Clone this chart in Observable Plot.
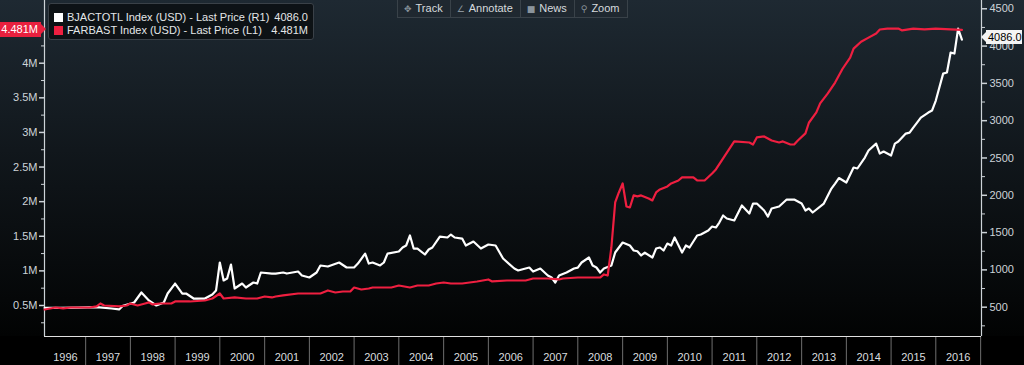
<!DOCTYPE html>
<html>
<head>
<meta charset="utf-8">
<script src="https://cdn.jsdelivr.net/npm/d3@7"></script>
<script src="https://cdn.jsdelivr.net/npm/@observablehq/plot@0.6"></script>
<style>
html, body { margin: 0; padding: 0; background: #000; }
#wrap {
  position: relative; width: 1024px; height: 365px; overflow: hidden;
  font-family: "Liberation Sans", Arial, sans-serif;
  background: linear-gradient(to bottom, #1e2932 0px, #11171c 150px, #050708 300px, #020303 336px, #000 336px, #000 365px);
}
#wrap svg { position: absolute; left: 0; top: 0; }
.legend {
  position: absolute; left: 48px; top: 3px; width: 266px; height: 37px;
  background: rgba(12,16,20,0.92); border: 1px solid #3a4148; border-radius: 3px;
  color: #e4e6e8; font-size: 11px; box-sizing: border-box;
}
.legend .row { position: absolute; left: 5px; right: 5px; height: 13px; line-height: 13px; white-space: pre; }
.legend .sw { position: absolute; left: 0; top: 2px; width: 9px; height: 9px; }
.legend .lbl { position: absolute; left: 13px; }
.legend .val { position: absolute; right: 0; }
.toolbar {
  position: absolute; left: 397px; top: 0px; height: 17px; display: flex;
  border: 1px solid #394249; border-top: none; background: #1f2830;
  color: #d6dadd; font-size: 11px; line-height: 17px;
}
.toolbar div { padding: 0 7px 0 6px; border-right: 1px solid #394249; white-space: nowrap; }
.toolbar div:last-child { border-right: none; }
.toolbar span.ic { color: #8a949c; font-family: "DejaVu Sans", sans-serif; font-size: 9px; margin-right: 4px; }
.tagL {
  position: absolute; left: 0; width: 38px; height: 15px; line-height: 15px;
  background: #e8203e; color: #fff; font-size: 11px; text-align: right; padding-right: 3px;
}
.tagL::after {
  content: ""; position: absolute; right: -5px; top: 2px;
  border-left: 5px solid #e8203e; border-top: 5.5px solid transparent; border-bottom: 5.5px solid transparent;
}
.tagR {
  position: absolute; left: 986px; width: 34px; height: 14px; line-height: 14px;
  background: #f4f4f4; color: #000; font-size: 11px; text-align: left; padding-left: 2px;
}
.tagR::before {
  content: ""; position: absolute; left: -5px; top: 2px;
  border-right: 5px solid #f4f4f4; border-top: 5px solid transparent; border-bottom: 5px solid transparent;
}
</style>
</head>
<body>
<div id="wrap"></div>
<script>
// ---- Data ----
// BJACTOTL Index (USD), right axis
const bjDates = ["1996-02","1996-06","1996-11","1997-04","1997-08","1997-10","1997-11","1998-02","1998-04","1998-06","1998-08","1998-10","1998-11","1999-01","1999-03","1999-04","1999-06","1999-09","1999-11","1999-12","2000-01","2000-02","2000-03","2000-04","2000-05","2000-07","2000-08","2000-10","2000-11","2000-12","2001-03","2001-04","2001-06","2001-07","2001-10","2001-11","2002-01","2002-03","2002-04","2002-06","2002-09","2002-11","2003-01","2003-02","2003-04","2003-05","2003-06","2003-08","2003-09","2003-10","2004-01","2004-02","2004-03","2004-04","2004-05","2004-06","2004-08","2004-09","2004-10","2004-12","2005-02","2005-03","2005-04","2005-06","2005-07","2005-09","2005-11","2006-01","2006-03","2006-05","2006-08","2006-09","2006-10","2006-12","2007-01","2007-03","2007-05","2007-06","2007-07","2007-08","2007-10","2007-12","2008-01","2008-02","2008-04","2008-05","2008-06","2008-07","2008-08","2008-10","2008-11","2009-01","2009-03","2009-04","2009-05","2009-06","2009-07","2009-09","2009-10","2009-11","2009-12","2010-01","2010-02","2010-03","2010-05","2010-06","2010-07","2010-09","2010-10","2010-12","2011-01","2011-02","2011-03","2011-04","2011-05","2011-07","2011-09","2011-11","2011-12","2012-01","2012-03","2012-04","2012-05","2012-07","2012-09","2012-10","2012-11","2013-01","2013-02","2013-03","2013-04","2013-07","2013-09","2013-10","2013-11","2014-01","2014-03","2014-04","2014-06","2014-07","2014-09","2014-10","2014-11","2015-01","2015-02","2015-03","2015-05","2015-06","2015-07","2015-09","2015-11","2015-12","2016-01","2016-03","2016-04","2016-05","2016-06","2016-07","2016-08"];
const bjValues = [490,490,495,500,482,470,520,563,697,590,523,563,683,817,683,683,616,616,670,723,1099,858,884,1072,750,817,764,831,817,965,951,951,965,951,978,925,898,965,1059,1045,1099,1032,1032,1085,1219,1085,1099,1059,1099,1219,1246,1300,1327,1461,1286,1286,1206,1273,1300,1447,1434,1474,1434,1420,1327,1380,1286,1340,1327,1152,1018,992,1005,1032,978,1018,925,898,831,925,965,1018,1030,1099,1166,1059,1032,965,1018,1059,1233,1367,1327,1260,1250,1193,1230,1166,1286,1300,1260,1353,1327,1434,1233,1327,1300,1461,1474,1528,1581,1568,1635,1729,1689,1662,1863,1755,1889,1889,1796,1715,1822,1849,1943,1943,1943,1889,1796,1822,1769,1889,2090,2157,2231,2171,2372,2359,2506,2600,2693,2559,2586,2533,2693,2720,2827,2840,2908,3042,3109,3136,3270,3631,3645,3913,3900,4234,4086];

// FARBAST Index (USD), left axis, in millions
const faDates = ["1996-02","1996-05","1996-07","1996-09","1996-11","1997-02","1997-04","1997-05","1997-06","1997-10","1997-12","1998-01","1998-03","1998-05","1998-06","1998-07","1998-09","1998-12","1999-01","1999-05","1999-09","1999-11","2000-01","2000-02","2000-05","2000-08","2000-11","2001-01","2001-03","2001-04","2001-06","2001-10","2002-02","2002-04","2002-06","2002-08","2002-10","2002-12","2003-01","2003-03","2003-05","2003-06","2003-11","2004-01","2004-04","2004-06","2004-09","2004-11","2005-01","2005-03","2005-06","2005-08","2005-10","2006-01","2006-02","2006-06","2006-09","2006-11","2007-01","2007-05","2007-08","2007-09","2008-01","2008-05","2008-07","2008-08","2008-09","2008-10","2008-11","2008-12","2009-01","2009-02","2009-03","2009-04","2009-05","2009-06","2009-08","2009-09","2009-10","2009-11","2010-01","2010-02","2010-04","2010-05","2010-08","2010-09","2010-11","2011-01","2011-02","2011-04","2011-07","2011-11","2011-12","2012-01","2012-03","2012-05","2012-07","2012-08","2012-10","2012-11","2012-12","2013-02","2013-03","2013-05","2013-06","2013-08","2013-10","2013-12","2014-02","2014-03","2014-05","2014-07","2014-09","2014-10","2014-12","2015-03","2015-04","2015-07","2015-10","2016-01","2016-05","2016-08"];
const faValues = [0.442,0.471,0.457,0.471,0.471,0.471,0.486,0.529,0.500,0.486,0.500,0.529,0.500,0.529,0.545,0.515,0.529,0.529,0.558,0.558,0.572,0.601,0.673,0.601,0.616,0.601,0.601,0.630,0.616,0.630,0.645,0.673,0.673,0.673,0.717,0.688,0.702,0.702,0.760,0.731,0.745,0.760,0.760,0.789,0.760,0.789,0.789,0.818,0.832,0.818,0.818,0.832,0.847,0.876,0.847,0.861,0.861,0.861,0.890,0.890,0.876,0.890,0.904,0.904,0.904,0.948,0.933,1.338,1.988,2.133,2.263,1.930,1.916,2.090,2.076,2.090,2.047,2.018,2.133,2.176,2.220,2.263,2.306,2.350,2.350,2.306,2.306,2.407,2.465,2.624,2.870,2.855,2.826,2.928,2.942,2.884,2.855,2.870,2.826,2.826,2.884,2.986,3.140,3.290,3.420,3.560,3.720,3.920,4.080,4.210,4.310,4.370,4.430,4.487,4.500,4.500,4.474,4.500,4.490,4.500,4.490,4.481];

const leftTicks = [0.5, 1, 1.5, 2, 2.5, 3, 3.5, 4];
const leftMinor = [0.25, 0.75, 1.25, 1.75, 2.25, 2.75, 3.25, 3.75, 4.25];
const rightTicks = [500, 1000, 1500, 2000, 2500, 3000, 3500, 4000, 4500];
const rightMinor = [250, 750, 1250, 1750, 2250, 2750, 3250, 3750, 4250];
const yearLabels = d3.range(1996, 2017);
const lastBJ = "4086.0";
const lastFA = "4.481M";
const seriesNames = ["BJACTOTL Index (USD) - Last Price (R1)", "FARBAST Index (USD) - Last Price (L1)"];

// ---- Build ----
const parse = d3.utcParse("%Y-%m");
const bj = bjDates.map((d, i) => ({date: parse(d), value: bjValues[i]}));
const fa = faDates.map((d, i) => ({date: parse(d), value: faValues[i]}));

const leftDomain = [0.052, 4.906];
const rightDomain = [107, 4611];
const toL = d3.scaleLinear().domain(rightDomain).range(leftDomain);
const xDomain = [new Date(Date.UTC(1996, 0, 31)), new Date(Date.UTC(2017, 0, 8))];
const yearStarts = d3.range(1997, 2018).map(y => new Date(Date.UTC(y, 0, 1)));
const yearMids = yearLabels.map(y => y === 1996 ? new Date(Date.UTC(1996, 6, 20)) : new Date(Date.UTC(y, 6, 2)));

const axisColor = "#cdd3d8";
const plot = Plot.plot({
  width: 1024, height: 365,
  marginTop: 0, marginBottom: 29, marginLeft: 44, marginRight: 43,
  style: {background: "transparent", color: axisColor, fontFamily: "'Liberation Sans', Arial, sans-serif", fontSize: "11px", overflow: "visible"},
  x: {type: "utc", domain: xDomain, label: null},
  y: {domain: leftDomain, label: null},
  marks: [
    // year dividers and labels in the bottom band
    Plot.axisX(yearStarts, {anchor: "bottom", label: null, tickSize: 29, tickFormat: () => "", stroke: "#6e6e6e"}),
    Plot.axisX(yearMids, {anchor: "bottom", label: null, tickSize: 0, tickPadding: 17, tickFormat: d => String(d.getUTCFullYear()), fill: "#d8dcdf"}),
    // left axis
    Plot.axisY(leftTicks, {anchor: "left", label: null, tickSize: 5, tickPadding: 2, tickFormat: d => d + "M", strokeWidth: 1.5}),
    Plot.axisY(leftMinor, {anchor: "left", label: null, tickSize: 3, tickFormat: () => ""}),
    // right axis
    Plot.axisY(rightTicks.map(toL), {anchor: "right", label: null, tickSize: 5, tickPadding: 3, tickFormat: d => String(Math.round(toL.invert(d))), strokeWidth: 1.5}),
    Plot.axisY(rightMinor.map(toL), {anchor: "right", label: null, tickSize: 3, tickFormat: () => ""}),
    // frame lines
    Plot.ruleX([xDomain[0]], {stroke: axisColor, strokeWidth: 1.2}),
    Plot.ruleX([xDomain[1]], {stroke: axisColor, strokeWidth: 1.2}),
    Plot.ruleY([leftDomain[0]], {stroke: "#e0e0e0", strokeWidth: 1.2}),
    // series
    Plot.lineY(bj, {x: "date", y: d => toL(d.value), stroke: "#ffffff", strokeWidth: 2.2, curve: "linear"}),
    Plot.lineY(fa, {x: "date", y: "value", stroke: "#ef1f40", strokeWidth: 2.2, curve: "linear"})
  ]
});

const wrap = document.getElementById("wrap");
wrap.appendChild(plot);
const ys = plot.scale("y");

// legend
const legend = document.createElement("div");
legend.className = "legend";
legend.innerHTML =
  `<div class="row" style="top:7px"><div class="sw" style="background:#fff"></div><span class="lbl">${seriesNames[0]}</span><span class="val">${lastBJ}</span></div>` +
  `<div class="row" style="top:20px"><div class="sw" style="background:#ef1f40"></div><span class="lbl">${seriesNames[1]}</span><span class="val">${lastFA}</span></div>`;
wrap.appendChild(legend);

// toolbar
const tb = document.createElement("div");
tb.className = "toolbar";
tb.innerHTML = `<div><span class="ic">✥</span>Track</div><div><span class="ic">∠</span>Annotate</div><div><span class="ic">■</span>News</div><div><span class="ic">⚲</span>Zoom</div>`;
wrap.appendChild(tb);

// last-value tags, positioned with the plot's y scale
const tagL = document.createElement("div");
tagL.className = "tagL";
tagL.textContent = lastFA;
tagL.style.top = (ys.apply(faValues[faValues.length - 1]) - 7.5) + "px";
wrap.appendChild(tagL);

const tagR = document.createElement("div");
tagR.className = "tagR";
tagR.textContent = lastBJ;
tagR.style.top = (ys.apply(toL(bjValues[bjValues.length - 1])) - 9) + "px";
wrap.appendChild(tagR);
</script>
</body>
</html>
